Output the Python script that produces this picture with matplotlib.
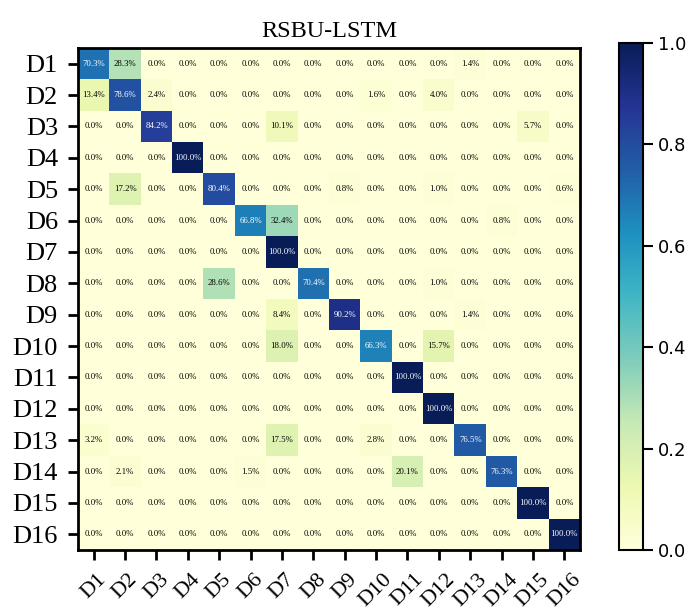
import numpy as np
from matplotlib import pyplot as plt

labels = ['D' + str(i) for i in range(1, 17)]

# confusion matrix rows (percent), true class D1..D16
row_d1 = [70.3, 28.3, 0, 0, 0, 0, 0, 0, 0, 0, 0, 0, 1.4, 0, 0, 0]
row_d2 = [13.4, 78.6, 2.4, 0, 0, 0, 0, 0, 0, 1.6, 0, 4.0, 0, 0, 0, 0]
row_d3 = [0, 0, 84.2, 0, 0, 0, 10.1, 0, 0, 0, 0, 0, 0, 0, 5.7, 0]
row_d4 = [0, 0, 0, 100.0, 0, 0, 0, 0, 0, 0, 0, 0, 0, 0, 0, 0]
row_d5 = [0, 17.2, 0, 0, 80.4, 0, 0, 0, 0.8, 0, 0, 1.0, 0, 0, 0, 0.6]
row_d6 = [0, 0, 0, 0, 0, 66.8, 32.4, 0, 0, 0, 0, 0, 0, 0.8, 0, 0]
row_d7 = [0, 0, 0, 0, 0, 0, 100.0, 0, 0, 0, 0, 0, 0, 0, 0, 0]
row_d8 = [0, 0, 0, 0, 28.6, 0, 0, 70.4, 0, 0, 0, 1.0, 0, 0, 0, 0]
row_d9 = [0, 0, 0, 0, 0, 0, 8.4, 0, 90.2, 0, 0, 0, 1.4, 0, 0, 0]
row_d10 = [0, 0, 0, 0, 0, 0, 18.0, 0, 0, 66.3, 0, 15.7, 0, 0, 0, 0]
row_d11 = [0, 0, 0, 0, 0, 0, 0, 0, 0, 0, 100.0, 0, 0, 0, 0, 0]
row_d12 = [0, 0, 0, 0, 0, 0, 0, 0, 0, 0, 0, 100.0, 0, 0, 0, 0]
row_d13 = [3.2, 0, 0, 0, 0, 0, 17.5, 0, 0, 2.8, 0, 0, 76.5, 0, 0, 0]
row_d14 = [0, 2.1, 0, 0, 0, 1.5, 0, 0, 0, 0, 20.1, 0, 0, 76.3, 0, 0]
row_d15 = [0, 0, 0, 0, 0, 0, 0, 0, 0, 0, 0, 0, 0, 0, 100.0, 0]
row_d16 = [0, 0, 0, 0, 0, 0, 0, 0, 0, 0, 0, 0, 0, 0, 0, 100.0]

cm = np.array([row_d1, row_d2, row_d3, row_d4, row_d5, row_d6, row_d7, row_d8,
               row_d9, row_d10, row_d11, row_d12, row_d13, row_d14, row_d15, row_d16]) / 100.0

plt.rcParams['font.family'] = 'Liberation Serif'

fig = plt.figure(figsize=(6.98, 6.13), dpi=100)
ax = fig.add_axes([78 / 698, 1 - 550 / 613, 502 / 698, 502 / 613])
cax = fig.add_axes([619 / 698, 1 - 550 / 613, 24 / 698, 507 / 613])

im = ax.imshow(cm, cmap='YlGnBu', vmin=0, vmax=1, aspect='auto')

# cell annotations
for i in range(cm.shape[0]):
    for j in range(cm.shape[1]):
        v = cm[i, j]
        ax.text(j, i, '%.1f%%' % (v * 100), ha='center', va='center', fontsize=6.3,
                color='white' if v > 0.5 else 'black')

ax.set_xticks(range(16))
ax.set_yticks(range(16))
ax.set_xticklabels(labels, rotation=45, fontsize=16)
ax.set_yticklabels(labels, fontsize=19)
ax.tick_params(length=7.5, width=2)
ax.tick_params(axis='x', pad=7)
ax.tick_params(axis='y', pad=7)
for s in ax.spines.values():
    s.set_linewidth(2)
ax.set_title('RSBU-LSTM', fontsize=17.5, pad=8)

cb = fig.colorbar(im, cax=cax)
cb.set_ticks([0.0, 0.2, 0.4, 0.6, 0.8, 1.0])
cb.ax.tick_params(length=7, width=1.5, labelsize=13)
for t in cb.ax.get_yticklabels():
    t.set_fontfamily('DejaVu Sans')
cb.outline.set_linewidth(1.5)

plt.savefig('out.png', dpi=100)
